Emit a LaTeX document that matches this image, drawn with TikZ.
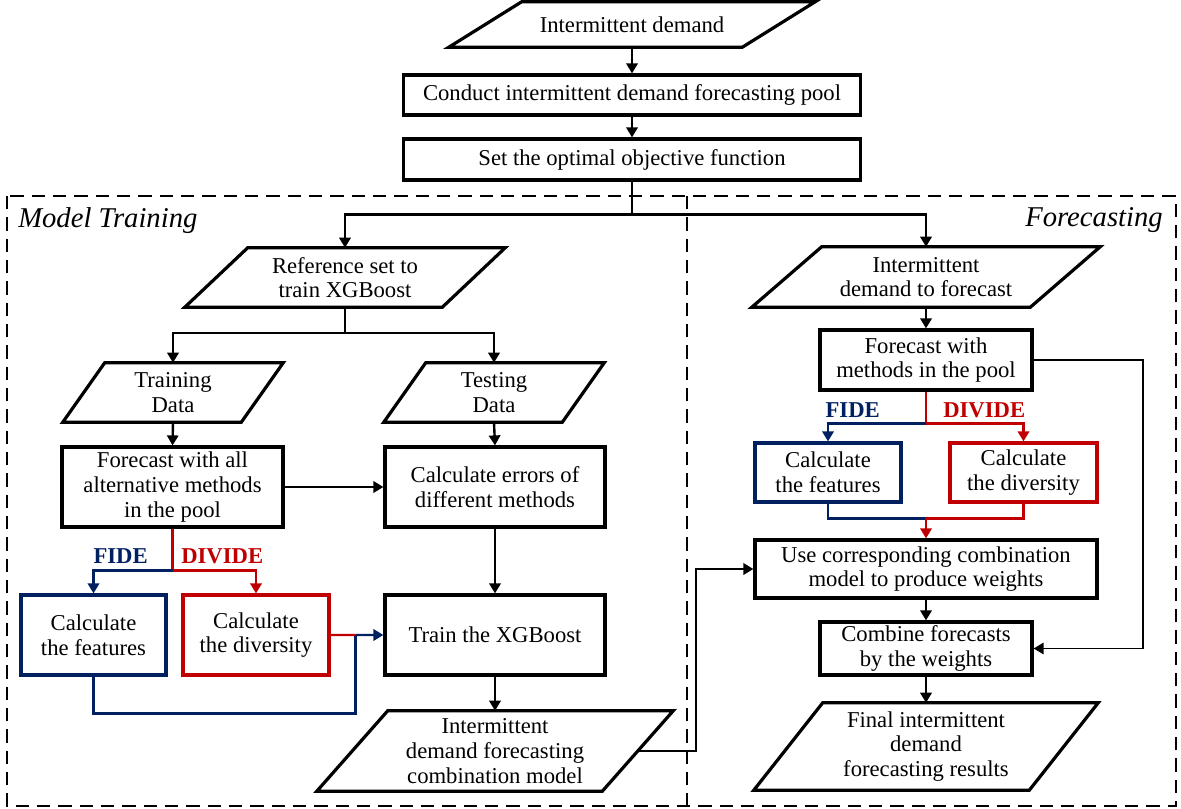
\documentclass[tikz,border=0pt]{standalone}
\usepackage{fontspec}
\setmainfont{Liberation Serif}
\usetikzlibrary{arrows.meta,calc}
\definecolor{fblue}{HTML}{002060}
\definecolor{dred}{HTML}{C00000}
\newcommand\drawpara[2]{\draw[boxline] ($(#1.north west)+(#2/2,0)$) -- ($(#1.north east)+(#2/2,0)$) -- ($(#1.south east)-(#2/2,0)$) -- ($(#1.south west)-(#2/2,0)$) -- cycle;}
\begin{document}
\begin{tikzpicture}[x=0.75pt,y=-0.75pt,
  sz/.style 2 args={minimum width=#1*0.75pt, minimum height=#2*0.75pt},
  base/.style={inner sep=0pt, align=center, font=\fontsize{17}{18.5}\selectfont},
  boxline/.style={line width=2.4pt, line join=miter},
  rbox/.style={base, draw, boxline},
  bbox/.style={base, draw=fblue, line width=2.4pt},
  dbox/.style={base, draw=dred, line width=2.4pt},
  ptext/.style={base},
  conn/.style={line width=1.8pt},
  arr/.style={conn, -{Triangle[length=7.5pt,width=8.5pt]}},
  blu/.style={conn, draw=fblue},
  bluarr/.style={arr, draw=fblue},
  rd/.style={conn, draw=dred},
  rdarr/.style={arr, draw=dred},
  frame/.style={line width=2.1pt, dash pattern=on 10pt off 6pt},
  lab/.style={inner sep=0pt, font=\fontsize{21.5}{24}\selectfont\itshape},
  mlab/.style={inner sep=0pt, font=\fontsize{17}{18}\selectfont\bfseries}
]
\useasboundingbox (0,0) rectangle (1181,809);

% frames
\draw[frame] (7,196) rectangle (1176,806);
\draw[frame] (687,196) -- (687,806);
\node[lab, anchor=base west] (mt) at (18,228) {Model Training};
\node[lab, anchor=base east] (fl) at (1163,227) {Forecasting};

% top column
\node[ptext, sz={293}{45}] (in1) at (632,24.5) {Intermittent demand};
\drawpara{in1}{73}
\node[rbox, sz={457}{40}] (pool) at (632,95) {Conduct intermittent demand forecasting pool};
\node[rbox, sz={457}{41}] (obj) at (632,159.5) {Set the optimal objective function};

% left side
\node[ptext, sz={257}{59}] (ref) at (345,277.5) {Reference set to\\train XGBoost};
\drawpara{ref}{63}
\node[ptext, sz={178}{59}] (train) at (173,392.5) {Training\\Data};
\drawpara{train}{42}
\node[ptext, sz={178}{59}] (test) at (494,392.5) {Testing\\Data};
\drawpara{test}{42}
\node[rbox, sz={221}{80}] (fc) at (172.5,487) {Forecast with all\\alternative methods\\in the pool};
\node[rbox, sz={220}{80}] (err) at (495,487) {Calculate errors of\\different methods};
\node[bbox, sz={145}{80}] (featL) at (93.5,635) {Calculate\\the features};
\node[dbox, sz={146}{80}] (divL) at (256,635) {Calculate\\the diversity};
\node[rbox, sz={220}{80}] (xgb) at (495,635) {Train the XGBoost};
\node[ptext, sz={285}{80}] (comb) at (495,751) {Intermittent\\demand forecasting\\combination model};
\drawpara{comb}{71}
\node[mlab, text=fblue, anchor=base east] (fideL) at (148,563) {FIDE};
\node[mlab, text=dred, anchor=base west] (divideL) at (181,563) {DIVIDE};

% right side
\node[ptext, sz={278}{60}] (intdf) at (926,277) {Intermittent\\demand to forecast};
\drawpara{intdf}{70}
\node[rbox, sz={212}{60}] (fcR) at (926,360) {Forecast with\\methods in the pool};
\node[bbox, sz={146}{59}] (featR) at (828,472.5) {Calculate\\the features};
\node[dbox, sz={147}{59}] (divR) at (1023.5,472.5) {Calculate\\the diversity};
\node[rbox, sz={342}{58}] (use) at (926,569) {Use corresponding combination\\model to produce weights};
\node[rbox, sz={212}{53}] (cmb) at (926,648.5) {Combine forecasts\\by the weights};
\node[ptext, sz={275}{87}] (final) at (926,746.5) {Final intermittent\\demand\\forecasting results};
\drawpara{final}{69}
\node[mlab, text=fblue, anchor=base east] (fideR) at (880,417) {FIDE};
\node[mlab, text=dred, anchor=base west] (divideR) at (943,417) {DIVIDE};

% connectors top
\draw[arr] (in1.south) -- (pool.north);
\draw[arr] (pool.south) -- (obj.north);
\draw[conn] (obj.south) -- ++(0,33) coordinate (jT);
\draw[arr] (jT) -| (ref.north);
\draw[arr] (jT) -| (intdf.north);

% connectors left
\draw[conn] (ref.south) -- ++(0,26) coordinate (jM);
\draw[arr] (jM) -| (train.north);
\draw[arr] (jM) -| (test.north);
\draw[arr] (train.south) -- (fc.north);
\draw[arr] (test.south) -- (err.north);
\draw[arr] (fc.east) -- (err.west);
\draw[arr] (err.south) -- (xgb.north);
\draw[rd] (fc.south) -- ++(0,42) coordinate (jL);
\draw[bluarr] (jL) -| (featL.north);
\draw[rdarr] (jL) -| (divL.north);
\coordinate (mL) at ($(divL.east)!0.47!(xgb.west)$);
\draw[blu] (featL.south) -- ++(0,37) -| (mL);
\draw[rd] (divL.east) -- (mL);
\draw[bluarr] (mL) -- (xgb.west);
\draw[arr] (xgb.south) -- (comb.north);
\draw[arr] (comb.east) -- ++(58,0) |- (use.west);

% connectors right
\draw[arr] (intdf.south) -- (fcR.north);
\draw[rd] (fcR.south) -- ++(0,32) coordinate (jR);
\draw[bluarr] (jR) -| (featR.north);
\draw[rdarr] (jR) -| (divR.north);
\coordinate (jR2) at ($(use.north)+(0,-20)$);
\draw[blu] (featR.south) |- (jR2);
\draw[rd] (divR.south) |- (jR2);
\draw[rdarr] (jR2) -- (use.north);
\draw[arr] (use.south) -- (cmb.north);
\draw[arr] (cmb.south) -- (final.north);
\draw[arr, line width=1.4pt] (fcR.east) -- ++(109,0) |- (cmb.east);
\end{tikzpicture}
\end{document}
